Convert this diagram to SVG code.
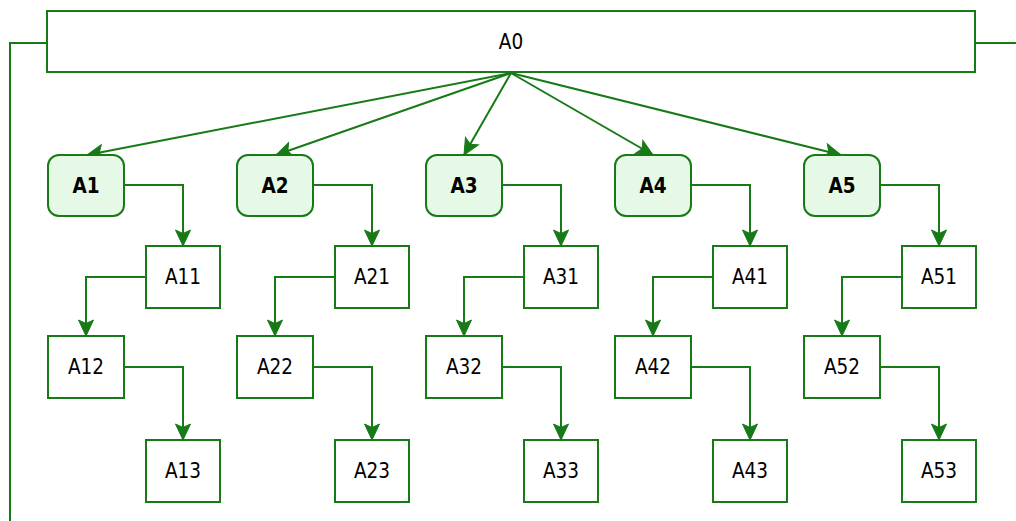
<svg xmlns="http://www.w3.org/2000/svg" width="1016" height="521" viewBox="0 0 1016 521">
<defs>
<marker id="arr" markerUnits="userSpaceOnUse" markerWidth="18" markerHeight="18" viewBox="0 0 18 18" refX="17" refY="9" orient="auto">
<path d="M1,1.5 L17,9 L1,16.5 L4.5,9 Z" fill="#177a17" stroke="#177a17" stroke-width="1"/>
</marker>
</defs>
<style>
.b{fill:#fff;stroke:#177a17;stroke-width:2}
.h{fill:#e6f9e6;stroke:#177a17;stroke-width:2}
.t{font-family:"DejaVu Sans Condensed","DejaVu Sans",sans-serif;font-stretch:condensed;font-size:20.5px;fill:#000;text-anchor:middle;dominant-baseline:central}
.tb{font-weight:bold}
.e{fill:none;stroke:#177a17;stroke-width:2}
.ea{fill:none;stroke:#177a17;stroke-width:2;marker-end:url(#arr)}
</style>
<rect width="1016" height="521" fill="#fff"/>
<g id="connectors">
<path class="e" d="M47,43 H10 V521"/>
<path class="e" d="M975,43 H1016"/>
<path class="ea" d="M511,73 L87,155"/>
<path class="ea" d="M511,73 L276,155"/>
<path class="ea" d="M511,73 L464,155"/>
<path class="ea" d="M511,73 L653,155"/>
<path class="ea" d="M511,73 L841,155"/>
<path class="ea" d="M124,185 H183 V246"/>
<path class="ea" d="M146,277 H86 V336"/>
<path class="ea" d="M124,367 H183 V440"/>
<path class="ea" d="M313,185 H372 V246"/>
<path class="ea" d="M335,277 H275 V336"/>
<path class="ea" d="M313,367 H372 V440"/>
<path class="ea" d="M502,185 H561 V246"/>
<path class="ea" d="M524,277 H464 V336"/>
<path class="ea" d="M502,367 H561 V440"/>
<path class="ea" d="M691,185 H750 V246"/>
<path class="ea" d="M713,277 H653 V336"/>
<path class="ea" d="M691,367 H750 V440"/>
<path class="ea" d="M880,185 H939 V246"/>
<path class="ea" d="M902,277 H842 V336"/>
<path class="ea" d="M880,367 H939 V440"/>
</g>
<g id="A0"><rect class="b" x="47" y="11" width="928" height="61"/><text class="t" x="511" y="42">A0</text></g>
<g id="A1"><rect class="h" x="48" y="155" width="76" height="61" rx="11"/><text class="t tb" x="86" y="186">A1</text></g>
<g id="A11"><rect class="b" x="146" y="246" width="74" height="62"/><text class="t" x="183" y="277">A11</text></g>
<g id="A12"><rect class="b" x="48" y="336" width="76" height="62"/><text class="t" x="86" y="367">A12</text></g>
<g id="A13"><rect class="b" x="146" y="440" width="74" height="62"/><text class="t" x="183" y="471">A13</text></g>
<g id="A2"><rect class="h" x="237" y="155" width="76" height="61" rx="11"/><text class="t tb" x="275" y="186">A2</text></g>
<g id="A21"><rect class="b" x="335" y="246" width="74" height="62"/><text class="t" x="372" y="277">A21</text></g>
<g id="A22"><rect class="b" x="237" y="336" width="76" height="62"/><text class="t" x="275" y="367">A22</text></g>
<g id="A23"><rect class="b" x="335" y="440" width="74" height="62"/><text class="t" x="372" y="471">A23</text></g>
<g id="A3"><rect class="h" x="426" y="155" width="76" height="61" rx="11"/><text class="t tb" x="464" y="186">A3</text></g>
<g id="A31"><rect class="b" x="524" y="246" width="74" height="62"/><text class="t" x="561" y="277">A31</text></g>
<g id="A32"><rect class="b" x="426" y="336" width="76" height="62"/><text class="t" x="464" y="367">A32</text></g>
<g id="A33"><rect class="b" x="524" y="440" width="74" height="62"/><text class="t" x="561" y="471">A33</text></g>
<g id="A4"><rect class="h" x="615" y="155" width="76" height="61" rx="11"/><text class="t tb" x="653" y="186">A4</text></g>
<g id="A41"><rect class="b" x="713" y="246" width="74" height="62"/><text class="t" x="750" y="277">A41</text></g>
<g id="A42"><rect class="b" x="615" y="336" width="76" height="62"/><text class="t" x="653" y="367">A42</text></g>
<g id="A43"><rect class="b" x="713" y="440" width="74" height="62"/><text class="t" x="750" y="471">A43</text></g>
<g id="A5"><rect class="h" x="804" y="155" width="76" height="61" rx="11"/><text class="t tb" x="842" y="186">A5</text></g>
<g id="A51"><rect class="b" x="902" y="246" width="74" height="62"/><text class="t" x="939" y="277">A51</text></g>
<g id="A52"><rect class="b" x="804" y="336" width="76" height="62"/><text class="t" x="842" y="367">A52</text></g>
<g id="A53"><rect class="b" x="902" y="440" width="74" height="62"/><text class="t" x="939" y="471">A53</text></g>
</svg>
